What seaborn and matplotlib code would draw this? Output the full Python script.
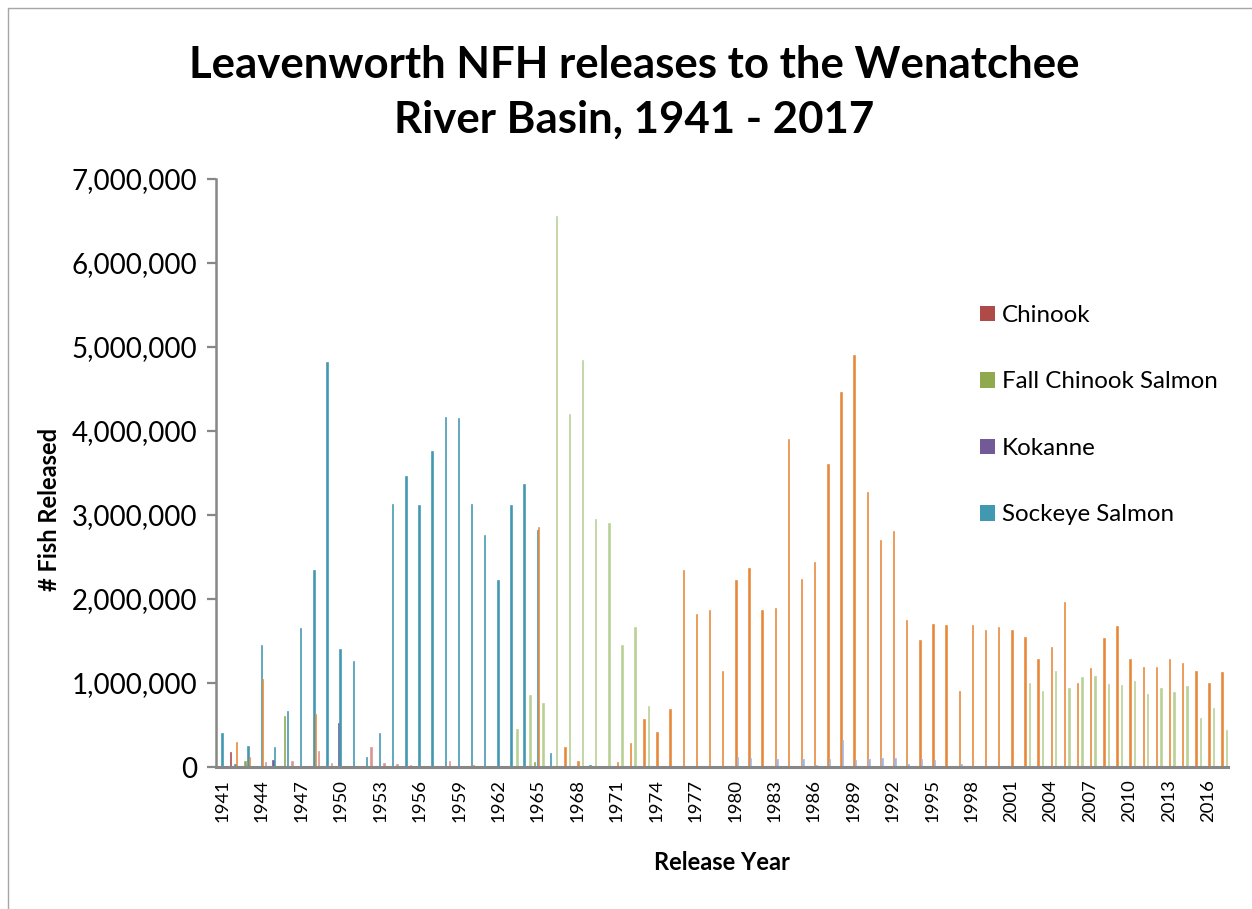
import matplotlib
matplotlib.use("Agg")
import matplotlib.pyplot as plt
from matplotlib.patches import Patch
from matplotlib.lines import Line2D
from matplotlib.ticker import FuncFormatter
import numpy as np
import pandas as pd
import seaborn as sns

# ---------------- data ----------------
years = list(range(1941, 2018))
tick_years = years[::3]

series_names = ["Chinook", "Fall Chinook Salmon", "Kokanne", "Sockeye Salmon",
                "Spring Chinook Salmon", "Rainbow Trout", "Summer Chinook Salmon",
                "Coho Salmon"]
legend_names = ["Chinook", "Fall Chinook Salmon", "Kokanne", "Sockeye Salmon"]

chinook = {1942: 175000}
fall_chinook = {1943: 67000, 1946: 603000, 1965: 64000}
kokanne = {1945: 80000, 1950: 520000}
sockeye = {1941: 409000, 1942: 30000, 1943: 246000, 1944: 1452000, 1945: 234000,
           1946: 667000, 1947: 1655000, 1948: 2340000, 1949: 4817000, 1950: 1400000,
           1951: 1258000, 1952: 115000, 1953: 400000, 1954: 3131000, 1955: 3468000,
           1956: 3115000, 1957: 3766000, 1958: 4163000, 1959: 4155000, 1960: 3131000,
           1961: 2758000, 1962: 2222000, 1963: 3119000, 1964: 3365000, 1965: 2825000,
           1966: 168000, 1969: 20000}
spring_chinook = {1942: 294000, 1943: 115000, 1944: 1052000, 1948: 627000, 1960: 20000,
                  1965: 2857000, 1967: 244000, 1968: 76000, 1971: 58000, 1972: 287000,
                  1973: 577000, 1974: 422000, 1975: 687000, 1976: 2347000, 1977: 1823000,
                  1978: 1869000, 1979: 1143000, 1980: 2222000, 1981: 2369000, 1982: 1869000,
                  1983: 1893000, 1984: 3905000, 1985: 2234000, 1986: 2440000, 1987: 3611000,
                  1988: 4460000, 1989: 4905000, 1990: 3278000, 1991: 2706000, 1992: 2810000,
                  1993: 1750000, 1994: 1512000, 1995: 1702000, 1996: 1694000, 1997: 905000,
                  1998: 1690000, 1999: 1627000, 2000: 1671000, 2001: 1630000, 2002: 1548000,
                  2003: 1286000, 2004: 1425000, 2005: 1960000, 2006: 1004000, 2007: 1175000,
                  2008: 1536000, 2009: 1680000, 2010: 1282000, 2011: 1187000, 2012: 1187000,
                  2013: 1286000, 2014: 1234000, 2015: 1139000, 2016: 996000, 2017: 1127000}
rainbow = {1980: 125000, 1981: 113000, 1983: 98000, 1985: 101000, 1986: 28000,
           1987: 100000, 1988: 316000, 1989: 89000, 1990: 100000, 1991: 105000,
           1992: 113000, 1993: 30000, 1994: 100000, 1995: 81000, 1997: 40000}
summer_chinook = {1944: 55000, 1946: 67000, 1948: 194000, 1949: 46000, 1952: 234000,
                  1953: 46000, 1954: 30000, 1955: 20000, 1958: 77000}
coho = {1963: 450000, 1964: 863000, 1965: 764000, 1966: 6565000, 1967: 4200000,
        1968: 4845000, 1969: 2956000, 1970: 2906000, 1971: 1450000, 1972: 1670000,
        1973: 728000, 2002: 996000, 2003: 905000, 2004: 1139000, 2005: 944000,
        2006: 1067000, 2007: 1079000, 2008: 988000, 2009: 972000, 2010: 1020000,
        2011: 869000, 2012: 944000, 2013: 893000, 2014: 968000, 2015: 579000,
        2016: 706000, 2017: 437000}

series_values = [chinook, fall_chinook, kokanne, sockeye, spring_chinook,
                 rainbow, summer_chinook, coho]
colors = ["#AE4A47", "#8EA94E", "#715A96", "#4199B1", "#E8883A",
          "#A3B5E0", "#D99593", "#B9D195"]

rows = []
for name, vals in zip(series_names, series_values):
    for y in years:
        rows.append({"Year": str(y), "Series": name, "Released": vals.get(y, 0)})
df = pd.DataFrame(rows)

# ---------------- figure ----------------
sns.set_theme(style="ticks")
plt.rcParams["font.family"] = ["Lato", "DejaVu Sans"]
plt.rcParams["text.color"] = "black"

W, H = 1252, 909
fig = plt.figure(figsize=(W / 100, H / 100), dpi=100)
fig.patch.set_facecolor("white")
ax = fig.add_axes([216 / W, 1 - 767 / H, (1228 - 216) / W, (767 - 179) / H])

palette = dict(zip(series_names, colors))
sns.barplot(data=df, x="Year", y="Released", hue="Series",
            order=[str(y) for y in years], hue_order=series_names,
            palette=palette, width=0.9, gap=0, dodge=True, saturation=1,
            errorbar=None, legend=False, linewidth=0, ax=ax)
# thin bars: outline each bar in its own colour so it reads like the reference
for p in ax.patches:
    p.set_edgecolor(p.get_facecolor())
    p.set_linewidth(0.45)

ax.set_xlim(-0.5, len(years) - 0.5)
ax.set_ylim(0, 7000000)
ax.set_yticks(np.arange(0, 7000001, 1000000))
ax.yaxis.set_major_formatter(FuncFormatter(lambda v, p: f"{int(v):,}"))
ax.set_xticks([years.index(y) for y in tick_years])
ax.set_xticklabels([str(y) for y in tick_years], rotation=90)

axis_gray = "#878787"
sns.despine(ax=ax, top=True, right=True)
ax.spines["left"].set_color(axis_gray)
ax.spines["left"].set_linewidth(1.8)
ax.spines["bottom"].set_color(axis_gray)
ax.spines["bottom"].set_linewidth(2.2)
ax.tick_params(axis="y", length=6.5, width=1.6, color=axis_gray,
               labelsize=20, pad=7, labelcolor="black")
ax.tick_params(axis="x", length=0, labelsize=13.3, pad=9, labelcolor="black")
ax.set_facecolor("white")

ax.set_xlabel("Release Year", fontsize=17, fontweight="bold", color="black")
ax.xaxis.label.set_va("center")
ax.xaxis.set_label_coords(0.5, (767 - 863) / 588)
ax.set_ylabel("# Fish Released", fontsize=17, fontweight="bold", color="black")
ax.yaxis.label.set_va("center")
ax.yaxis.set_label_coords((50 - 216) / 1012, (767 - 509) / 588)

# title (two lines)
fig.text(634 / W, 1 - 78 / H, "Leavenworth NFH releases to the Wenatchee",
         ha="center", va="baseline", fontsize=31.5, fontweight="bold", color="black")
fig.text(634 / W, 1 - 133 / H, "River Basin, 1941 - 2017",
         ha="center", va="baseline", fontsize=31.5, fontweight="bold", color="black")

# legend (only the first four entries are visible in the reference)
handles = [Patch(facecolor=palette[n], edgecolor="none") for n in legend_names]
leg = ax.legend(handles, legend_names, loc="upper left",
                bbox_to_anchor=(980 / W, 1 - 305 / H), bbox_transform=fig.transFigure,
                frameon=False, fontsize=17.4, handlelength=0.62, handleheight=0.62,
                handletextpad=0.3, labelspacing=1.88, borderpad=0, borderaxespad=0)
for t in leg.get_texts():
    t.set_color("black")

# chart-area border (top and left edges visible)
fig.add_artist(Line2D([8 / W, 1.0], [1 - 8 / H, 1 - 8 / H], transform=fig.transFigure,
                      color="#A6A6A6", lw=1))
fig.add_artist(Line2D([8 / W, 8 / W], [0.0, 1 - 8 / H], transform=fig.transFigure,
                      color="#A6A6A6", lw=1))

fig.savefig("out.png", dpi=100, facecolor="white")
